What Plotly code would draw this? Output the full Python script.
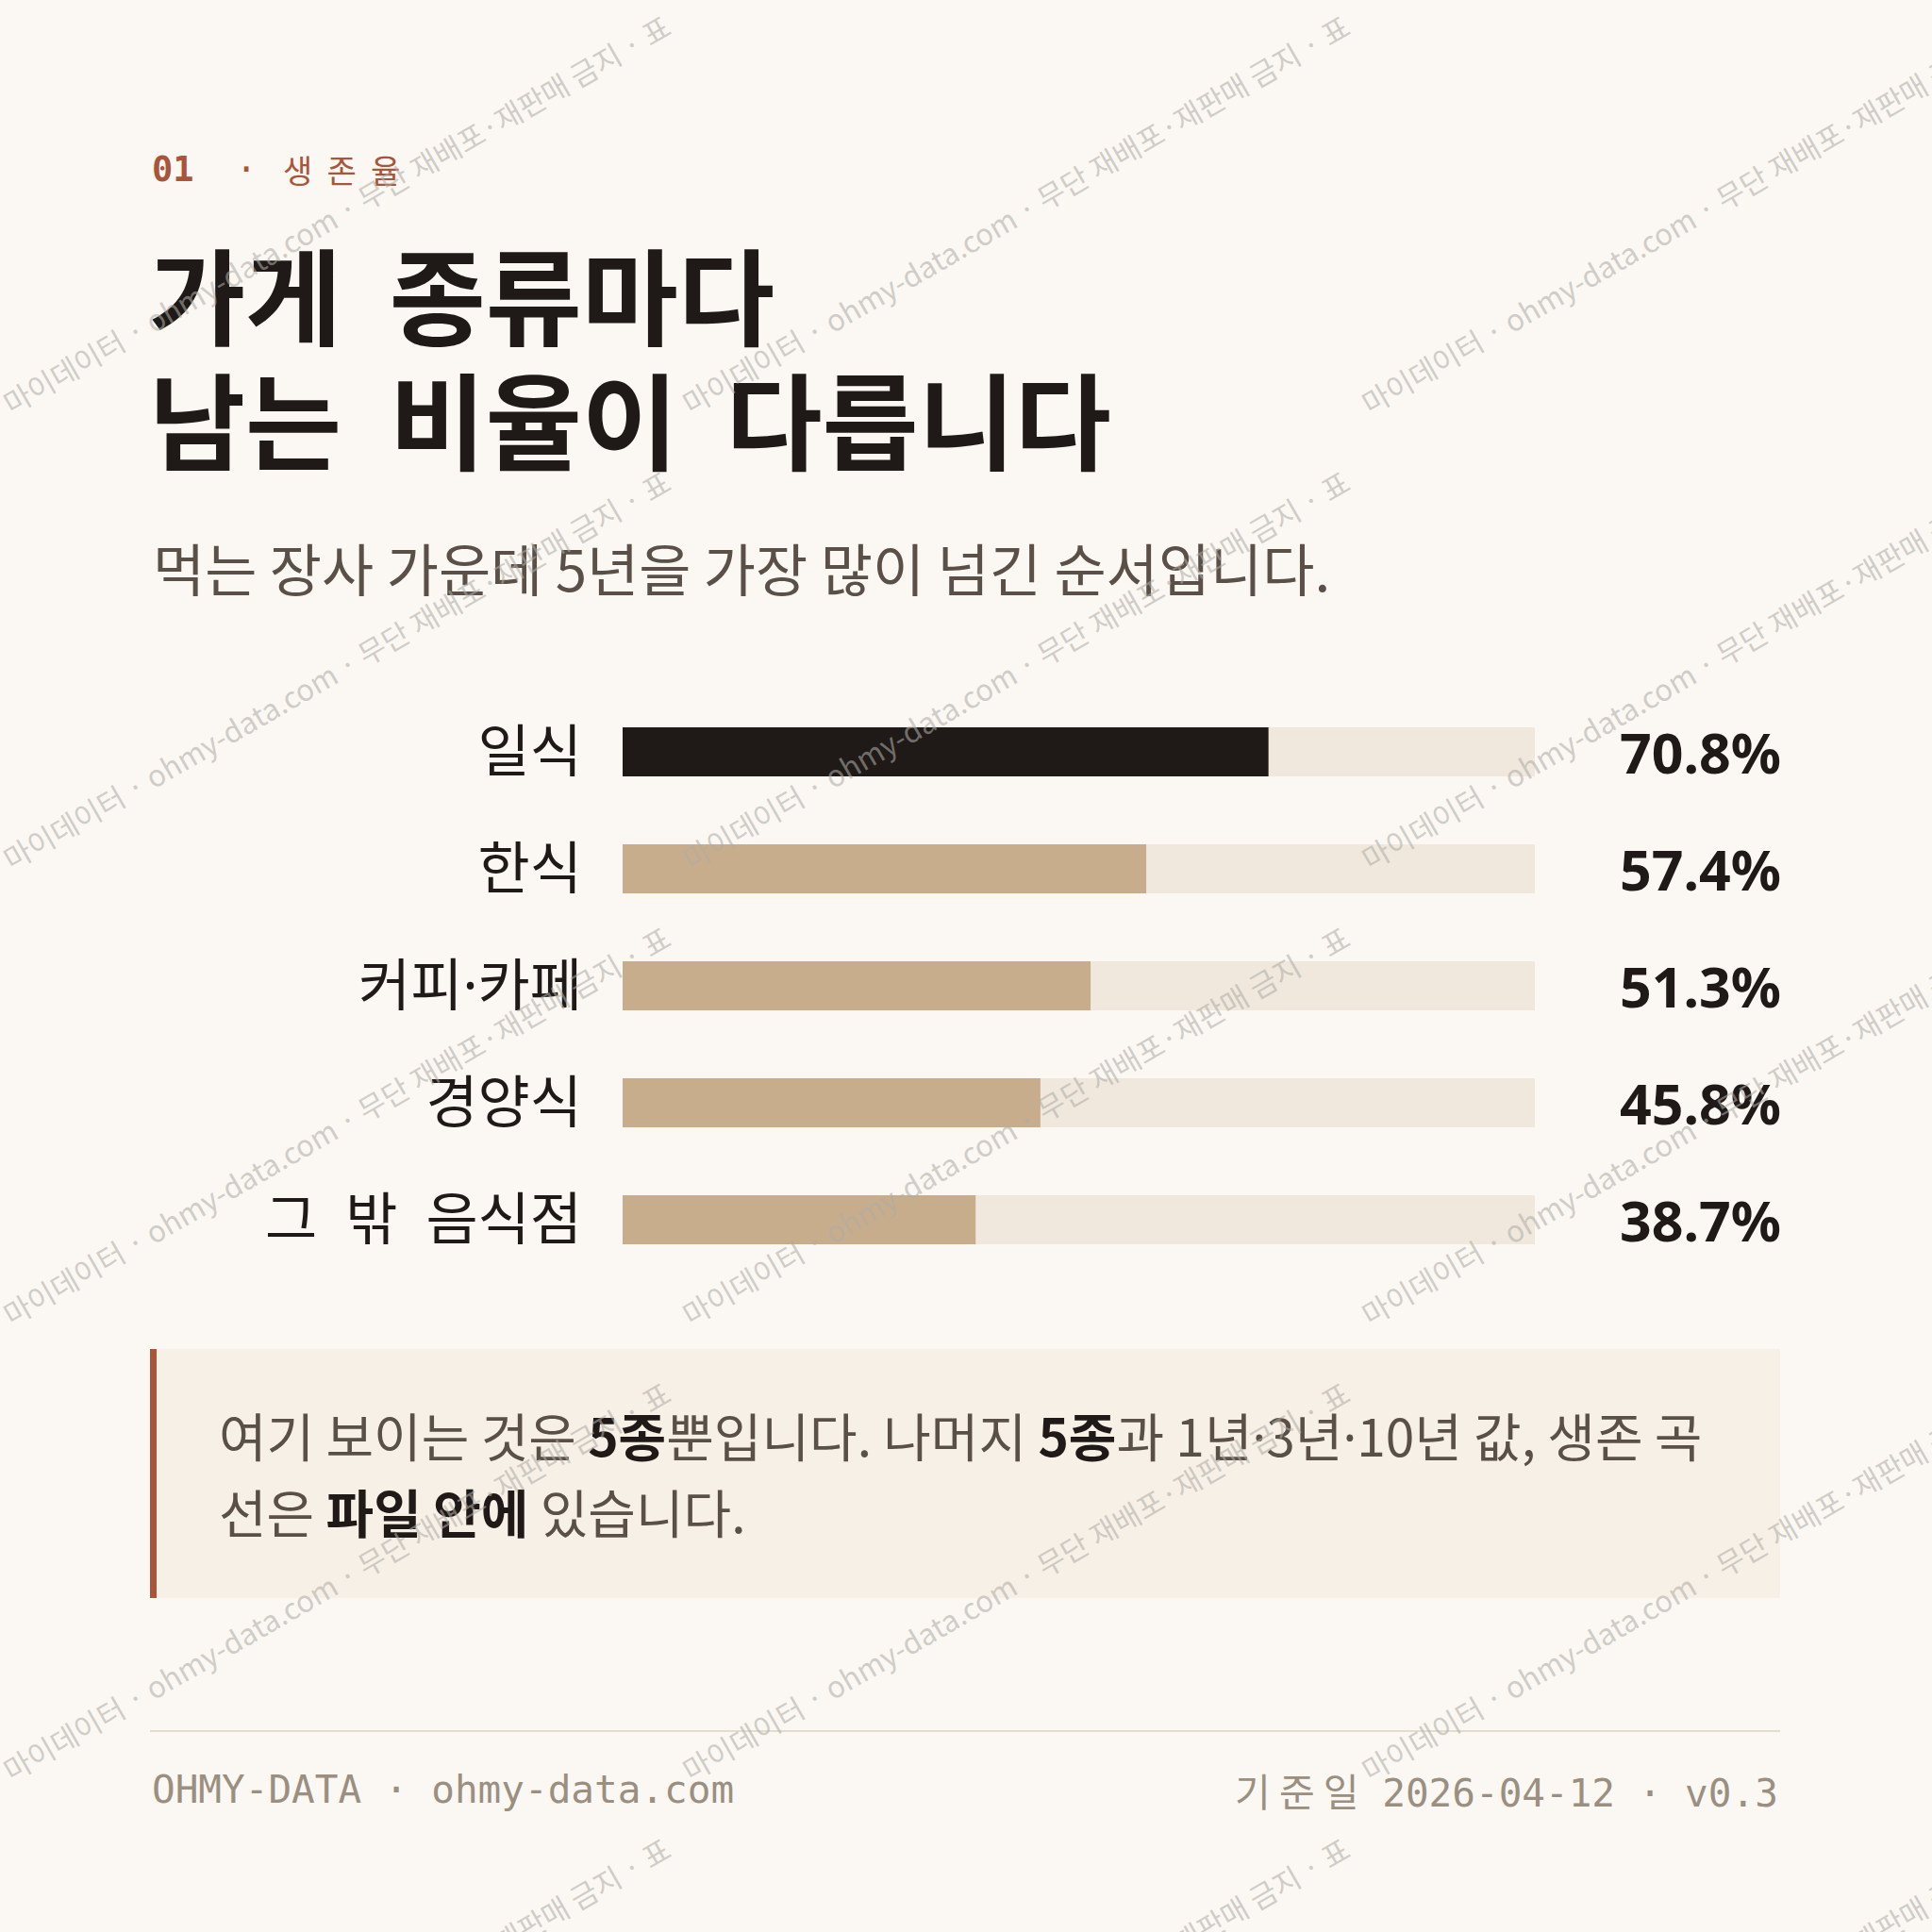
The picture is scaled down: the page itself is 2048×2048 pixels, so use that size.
import plotly.graph_objects as go

# --- data ---
categories = ["일식", "한식", "커피·카페", "경양식", "그 밖 음식점"]
survival_5y = [70.8, 57.4, 51.3, 45.8, 38.7]
highlight = "일식"

eyebrow_num = "01"
eyebrow_label = "생존율"
title_lines = ["가게 종류마다", "남는 비율이 다릅니다"]
subtitle = "먹는 장사 가운데 5년을 가장 많이 넘긴 순서입니다."
note_lines = [
    "여기 보이는 것은 <b>5종</b>뿐입니다. 나머지 <b>5종</b>과 1년·3년·10년 값, 생존 곡",
    "선은 <b>파일 안에</b> 있습니다.",
]
footer_left = "OHMY-DATA · ohmy-data.com"
footer_label = "기준일"
footer_date = "2026-04-12"
footer_ver = "v0.3"
watermark = "마이데이터 · ohmy-data.com · 무단 재배포·재판매 금지 · 표"

# --- style ---
W = 2048
BG = "#fbf8f3"
INK = "#1f1a17"
TAN = "#c8ad8c"
TRACK = "#f0e8dc"
RUST = "#a8553a"
GREY = "#5a5048"
MUTED = "#9a8f80"
KR = "Noto Sans CJK KR, Noto Sans, sans-serif"
SANS = "Noto Sans, Open Sans, sans-serif"
MONO = "DejaVu Sans Mono, Liberation Mono, monospace"


def px(x):
    return x / W


def py(y):
    return 1 - y / W


def kr_text(s, gap=None):
    # optional wider word gaps, then a narrow latin middot
    if gap:
        s = s.replace(" ", gap)
    return s.replace("·", "<span style='font-family:Noto Sans'>·</span>")


fig = go.Figure()

# track bars (full 100%) then the value bars on top
fig.add_trace(go.Bar(y=categories, x=[100] * len(categories), orientation="h",
                     marker=dict(color=TRACK, line=dict(width=0)), width=0.42,
                     hoverinfo="skip"))
fig.add_trace(go.Bar(y=categories, x=survival_5y, orientation="h",
                     marker=dict(color=[INK if c == highlight else TAN for c in categories],
                                 line=dict(width=0)),
                     width=0.42))

ann = []

# value labels
for c, v in zip(categories, survival_5y):
    ann.append(dict(x=px(1890), y=c, xref="paper", yref="y", text=f"{v:.1f}%",
                    xanchor="right", yanchor="middle", showarrow=False,
                    font=dict(family=SANS, size=59, color=INK, weight=700)))

# eyebrow
ann.append(dict(x=px(159), y=py(179), xref="paper", yref="paper",
                text=f"<b>{eyebrow_num}</b>\u00a0\u00a0·", xanchor="left", yanchor="middle",
                showarrow=False, font=dict(family=MONO, size=37, color=RUST)))
ann.append(dict(x=px(298), y=py(179), xref="paper", yref="paper",
                text="\u00a0\u00a0".join(eyebrow_label), xanchor="left", yanchor="middle",
                showarrow=False, font=dict(family=KR, size=34, color=RUST)))

# title
for i, line in enumerate(title_lines):
    ann.append(dict(x=px(156), y=py(309 + 132 * i), xref="paper", yref="paper",
                    text=line.replace(" ", "\u00a0\u00a0"), xanchor="left", yanchor="middle",
                    showarrow=False,
                    font=dict(family=KR, size=111, color=INK, weight=700)))

# subtitle
ann.append(dict(x=px(160), y=py(600), xref="paper", yref="paper", text=subtitle,
                xanchor="left", yanchor="middle", showarrow=False,
                font=dict(family=KR, size=60, color=GREY)))

# note box text
for i, line in enumerate(note_lines):
    t = kr_text(line).replace("<b>", f"<b><span style='color:{INK}'>").replace("</b>", "</span></b>")
    ann.append(dict(x=px(230), y=py(1520 + 81 * i), xref="paper", yref="paper",
                    text=t, xanchor="left", yanchor="middle", showarrow=False,
                    font=dict(family=KR, size=55, color=GREY)))

# footer
ann.append(dict(x=px(159), y=py(1897), xref="paper", yref="paper", text=footer_left,
                xanchor="left", yanchor="middle", showarrow=False,
                font=dict(family=MONO, size=41, color=MUTED)))
ann.append(dict(x=px(1887), y=py(1897), xref="paper", yref="paper",
                text=f"<span style='font-family:Noto Sans CJK KR'>{chr(160).join(footer_label)}</span> {footer_date} · {footer_ver}",
                xanchor="right", yanchor="middle", showarrow=False,
                font=dict(family=MONO, size=41, color=MUTED)))

# watermark tiles
for r in range(5):
    for col in range(3):
        ann.append(dict(x=px(356 + 720 * col), y=py(226 + 483 * r), xref="paper", yref="paper",
                        text=watermark, textangle=-30, xanchor="center", yanchor="middle",
                        showarrow=False,
                        font=dict(family=KR, size=31, color="rgba(175,172,167,0.58)")))

shapes = [
    dict(type="rect", xref="paper", yref="paper", x0=px(159), x1=px(1887),
         y0=py(1694), y1=py(1430), fillcolor="#f7f0e6", line=dict(width=0), layer="below"),
    dict(type="rect", xref="paper", yref="paper", x0=px(159), x1=px(166),
         y0=py(1694), y1=py(1430), fillcolor=RUST, line=dict(width=0), layer="below"),
    dict(type="line", xref="paper", yref="paper", x0=px(159), x1=px(1887),
         y0=py(1835), y1=py(1835), line=dict(color="#e4dccd", width=2), layer="below"),
]

fig.update_layout(
    width=W, height=W,
    margin=dict(l=0, r=0, t=0, b=0, autoexpand=False),
    paper_bgcolor=BG, plot_bgcolor="rgba(0,0,0,0)",
    barmode="overlay", showlegend=False,
    annotations=ann, shapes=shapes,
    xaxis=dict(domain=[px(660), px(1627)], range=[0, 100], visible=False,
               fixedrange=True, automargin=False),
    yaxis=dict(domain=[py(1355), py(735)], range=[4.5, -0.5], type="category",
               showgrid=False, zeroline=False, showline=False, ticks="",
               tickvals=categories, ticktext=[kr_text(c, "\u2002") for c in categories],
               ticklabelstandoff=42, automargin=False,
               tickfont=dict(family=KR, size=60, color=INK), fixedrange=True),
)

fig.write_html("out.html", config={"displayModeBar": False},
               post_script=f"document.body.style.margin='0';document.body.style.background='{BG}';")
